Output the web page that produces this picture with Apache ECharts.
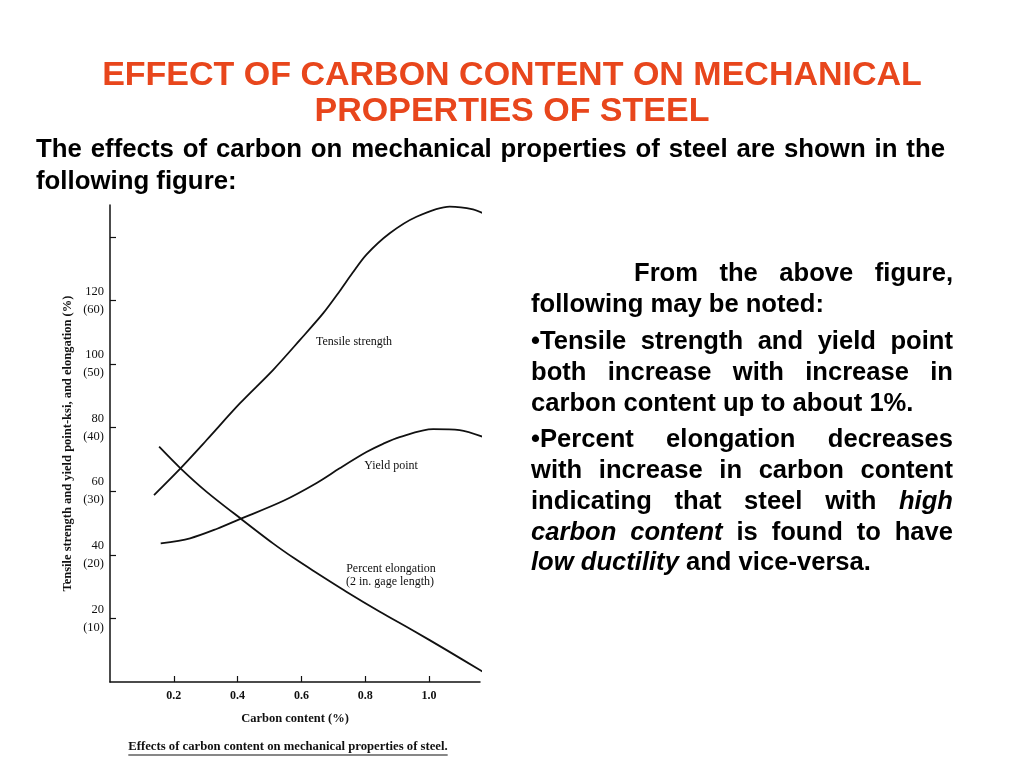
<!DOCTYPE html>
<html>
<head>
<meta charset="utf-8">
<script src="https://cdn.jsdelivr.net/npm/echarts@6/dist/echarts.min.js"></script>
<style>
html,body{margin:0;padding:0;background:#fff;}
#c{width:1024px;height:768px;}
</style>
</head>
<body>
<div id="c"></div>
<script>
// ---- data (carbon %, value on ksi scale) ----
const tensileStrength = [[0.138,58.8],[0.221,67.2],[0.303,76.1],[0.407,87.6],[0.511,98.1],[0.595,107.5],[0.668,115.9],[0.720,122.9],[0.760,128.6],[0.804,134.4],[0.877,141.1],[0.961,146.3],[1.065,149.5],[1.138,148.6],[1.18,146.9]];
const yieldPoint = [[0.159,43.6],[0.251,45.2],[0.336,48.2],[0.407,51.2],[0.544,57.0],[0.648,62.6],[0.720,67.2],[0.804,72.3],[0.856,74.9],[0.908,77.0],[1.013,79.5],[1.096,79.2],[1.174,76.9]];
const percentElongation = [[0.154,74.0],[0.221,67.2],[0.303,59.8],[0.412,51.2],[0.511,43.6],[0.579,38.8],[0.637,35.0],[0.741,28.4],[0.846,22.1],[0.950,16.2],[1.054,10.1],[1.169,3.2]];
const xTicks = [0.2,0.4,0.6,0.8,1.0];
const yLabelTicks = [20,40,60,80,100,120];
const yTicks = [20,40,60,80,100,120,140];

const titleLines = ["EFFECT OF CARBON CONTENT ON MECHANICAL","PROPERTIES OF STEEL"];
const introLines = ["The effects of carbon on mechanical properties of steel are shown in the","following figure:"];
const noteLines = [
  "From the above figure,",
  "following may be noted:",
  "•Tensile strength and yield point",
  "both increase with increase in",
  "carbon content up to about 1%.",
  "•Percent elongation decreases",
  "with increase in carbon content",
  "indicating that steel with *high*",
  "*carbon* *content* is found to have",
  "*low* *ductility* and vice-versa."
];
const caption = "Effects of carbon content on mechanical properties of steel.";

// ---- layout ----
const cv = document.createElement('canvas');
const cx = cv.getContext('2d');
function textWidth(t, font){ cx.font = font; return cx.measureText(t).width; }

const graphics = [];
function addLine(line, opt){
  const words = line.split(' ').map(w => {
    const it = /^\*.*\*$/.test(w);
    return {t: it ? w.slice(1,-1) : w, it};
  });
  const fontOf = w => (w.it ? 'italic ' : '') + 'bold ' + opt.size + 'px "Liberation Sans"';
  const widths = words.map(w => textWidth(w.t, fontOf(w)));
  const sum = widths.reduce((a,b)=>a+b,0);
  const space = textWidth(' ', 'bold ' + opt.size + 'px "Liberation Sans"');
  let gap = space;
  if (opt.justify && words.length > 1) gap = (opt.x1 - opt.x0 - sum) / (words.length - 1);
  let x = opt.x0;
  words.forEach((w,i) => {
    graphics.push({type:'text', x: x, y: opt.y, style:{
      text: w.t, fontSize: opt.size, fontWeight:'bold', fontStyle: w.it ? 'italic' : 'normal',
      fontFamily:'Liberation Sans', fill: opt.color || '#000',
      align:'left', textAlign:'left', verticalAlign:'middle', textVerticalAlign:'middle'
    }});
    x += widths[i] + gap;
  });
}

// titles
const titleY = [76, 112];
titleLines.forEach((t,i) => graphics.push({type:'text', x:512, y:titleY[i], style:{
  text:t, fontSize:34, fontWeight:'bold', fontFamily:'Liberation Sans', fill:'#e8461c',
  align:'center', textAlign:'center', verticalAlign:'middle', textVerticalAlign:'middle'}}));

addLine(introLines[0], {x0:36, x1:945, y:150, size:25.8, justify:true});
addLine(introLines[1], {x0:36, x1:945, y:182, size:25.8, justify:false});

const noteLayout = [
  {x0:634, y:274, j:true}, {x0:531, y:305, j:false},
  {x0:531, y:342, j:true}, {x0:531, y:373, j:true}, {x0:531, y:404, j:false},
  {x0:531, y:440, j:true}, {x0:531, y:471, j:true}, {x0:531, y:502, j:true},
  {x0:531, y:533, j:true}, {x0:531, y:563, j:false}
];
noteLines.forEach((l,i) => addLine(l, {x0:noteLayout[i].x0, x1:953, y:noteLayout[i].y, size:25.6, justify:noteLayout[i].j}));

// curve labels
const serif = 'Liberation Serif';
const curveLabels = [
  {t:'Tensile strength', x:354, y:342},
  {t:'Yield point', x:391, y:466},
  {t:'Percent elongation', x:391, y:569},
  {t:'(2 in. gage length)', x:390, y:582}
];
curveLabels.forEach(c => graphics.push({type:'text', x:c.x, y:c.y, style:{
  text:c.t, fontSize:12, fontFamily:serif, fill:'#111',
  align:'center', textAlign:'center', verticalAlign:'middle', textVerticalAlign:'middle'}}));

// caption with underline
const capSize = 12.7;
const capW = textWidth(caption, 'bold ' + capSize + 'px "Liberation Serif"');
graphics.push({type:'text', x:288, y:747, style:{text:caption, fontSize:capSize, fontWeight:'bold', fontFamily:serif, fill:'#111',
  align:'center', textAlign:'center', verticalAlign:'middle', textVerticalAlign:'middle'}});
graphics.push({type:'line', shape:{x1:288-capW/2, y1:755, x2:288+capW/2, y2:755}, style:{stroke:'#111', lineWidth:1.2}});

const axisColor = '#111';
const lineStyle = {color:'#111', width:1.8};
function mk(name, data){
  return {type:'line', name, data, smooth:0.3, showSymbol:false, symbol:'none',
    clip:false, lineStyle, itemStyle:{color:'#111'}, silent:true};
}

const chart = echarts.init(document.getElementById('c'));
chart.setOption({
  animation:false,
  backgroundColor:'#fff',
  grid:{left:110, top:205, width:370, height:477},
  xAxis:{type:'value', min:0, max:1.16, interval:0.2,
    name:'Carbon content (%)', nameLocation:'middle', nameGap:30,
    nameTextStyle:{fontFamily:serif, fontSize:12.5, fontWeight:'bold', color:'#111'},
    axisLine:{show:true, lineStyle:{color:axisColor, width:1.5}},
    axisTick:{show:true, inside:true, length:6, customValues:xTicks, lineStyle:{color:axisColor, width:1.2}},
    axisLabel:{customValues:xTicks, formatter:v=>v.toFixed(1), fontFamily:serif, fontSize:12, fontWeight:'bold', color:'#111', margin:8},
    splitLine:{show:false}},
  yAxis:{type:'value', min:0, max:150, interval:20,
    name:'Tensile strength and yield point-ksi, and elongation (%)', nameLocation:'middle', nameGap:36, nameRotate:90,
    nameTextStyle:{fontFamily:serif, fontSize:12.5, fontWeight:'bold', color:'#111'},
    axisLine:{show:true, lineStyle:{color:axisColor, width:1.5}},
    axisTick:{show:true, inside:true, length:6, customValues:yTicks, lineStyle:{color:axisColor, width:1.2}},
    axisLabel:{customValues:yLabelTicks, formatter:v=>v + '\n(' + (v/2) + ')', fontFamily:serif, fontSize:12.5, color:'#111', lineHeight:18, margin:6},
    splitLine:{show:false}},
  series:[mk('Tensile strength', tensileStrength), mk('Yield point', yieldPoint), mk('Percent elongation', percentElongation)],
  graphic:{elements:graphics}
});
</script>
</body>
</html>
